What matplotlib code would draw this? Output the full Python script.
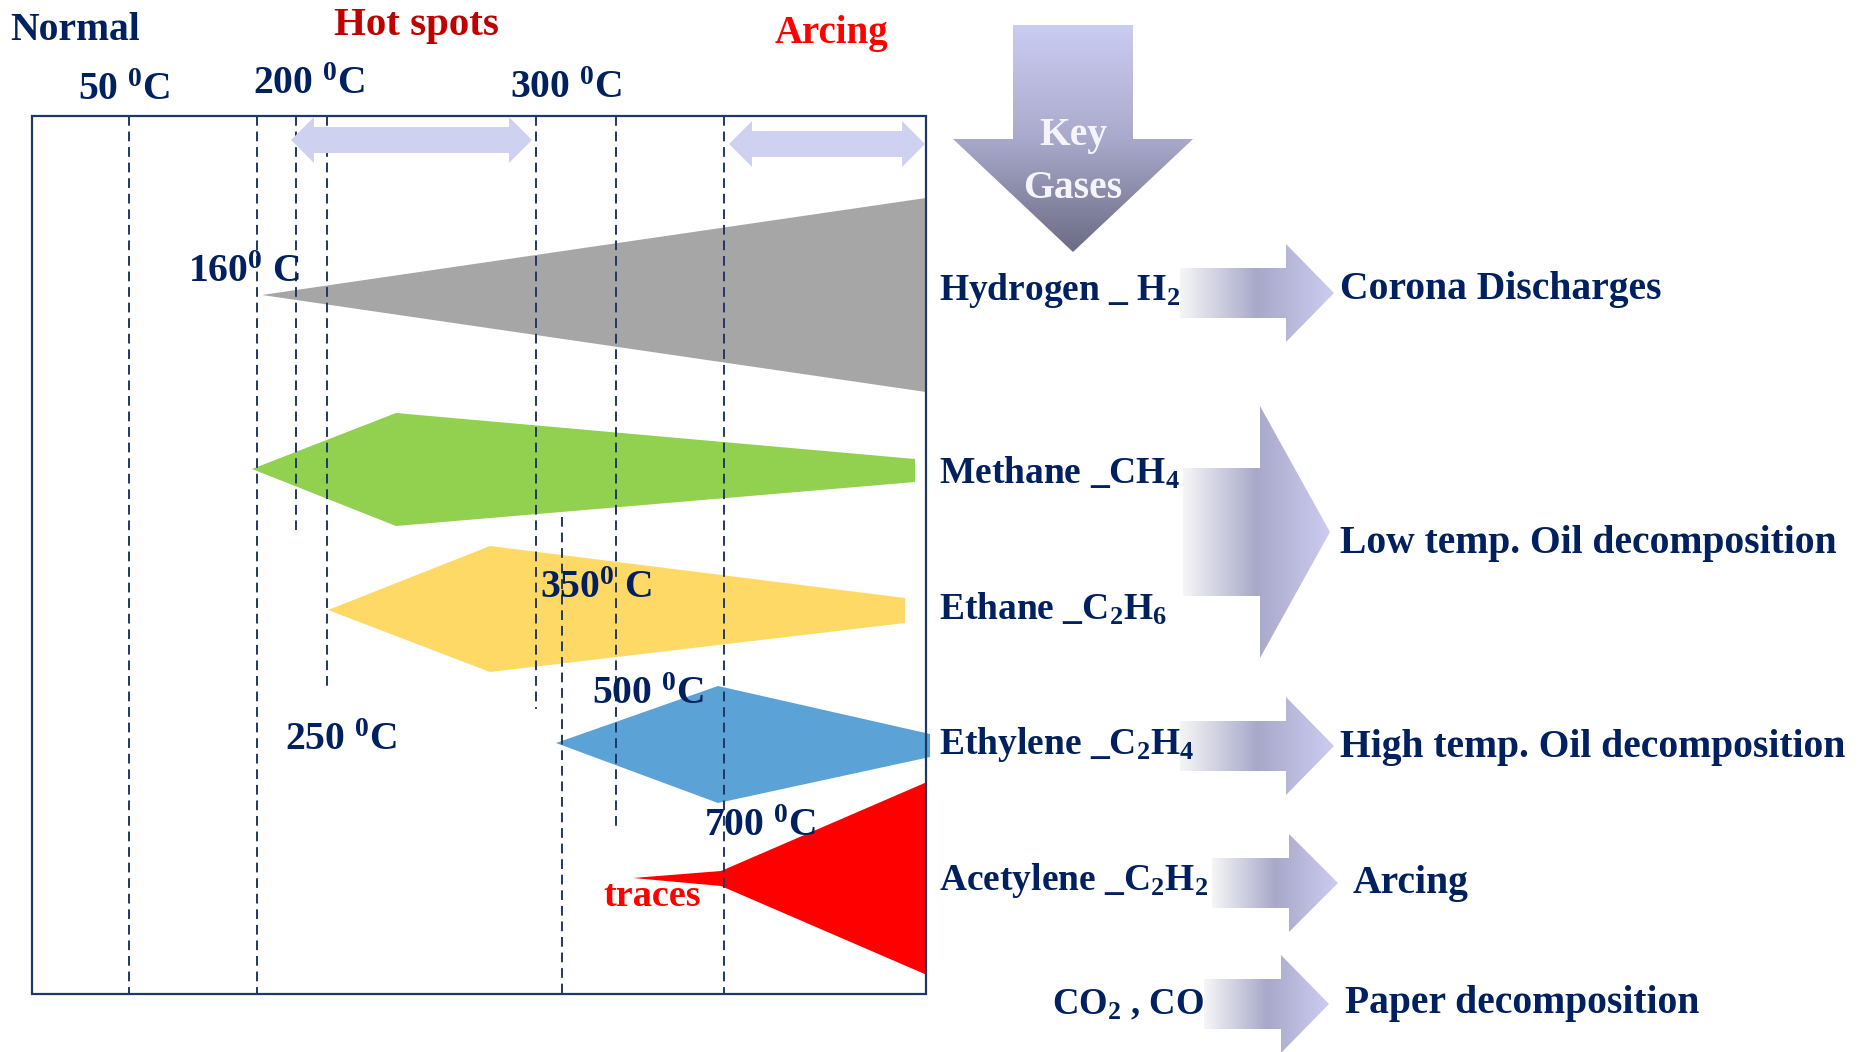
import numpy as np
import matplotlib
matplotlib.use("Agg")
import matplotlib.pyplot as plt
from matplotlib.patches import Polygon, Rectangle, PathPatch
from matplotlib.path import Path
from matplotlib.colors import LinearSegmentedColormap

plt.rcParams['font.family'] = ['Liberation Serif', 'DejaVu Serif']
plt.rcParams['mathtext.fontset'] = 'custom'
plt.rcParams['mathtext.rm'] = 'Liberation Serif:bold'
plt.rcParams['mathtext.it'] = 'Liberation Serif:bold'
plt.rcParams['mathtext.bf'] = 'Liberation Serif:bold'
plt.rcParams['mathtext.default'] = 'rm'

# ---- data (pixel space of the schematic, y grows downward) ----
# dashed temperature guide lines
line_x = [129, 257, 296, 327, 536, 562, 616, 724]
line_top = [116, 116, 116, 116, 116, 517, 116, 116]
line_bottom = [994, 994, 530, 690, 709, 994, 826, 994]

# temperature labels
temp_text = ['50 $^{0}$C', '200 $^{0}$C', '300 $^{0}$C', '160$^{0}$ C',
             '250 $^{0}$C', '350$^{0}$ C', '500 $^{0}$C', '700 $^{0}$C']
temp_x = [124, 309, 566, 244, 341, 596, 648, 760]
temp_y = [90, 85, 88, 272, 740, 589, 694, 826]

# zones on top
zone_text = ['Normal', 'Hot spots', 'Arcing']
zone_x = [10, 416, 831]
zone_y = [31, 25, 34]
zone_color = ['#002060', '#c00000', '#ff0000']
zone_size = [28.5, 29.5, 28]

# double arrows for hot spots / arcing: left tip, right tip, centre y
zone_arrow_left = [291, 729]
zone_arrow_right = [532, 925]
zone_arrow_y = [140, 144]

# key gases (shape outlines)
gas_names = ['Hydrogen _ H$_2$', 'Methane _CH$_4$', 'Ethane _C$_2$H$_6$',
             'Ethylene _C$_2$H$_4$', 'Acetylene _C$_2$H$_2$']
gas_label_y = [291, 473, 609, 745, 881]
gas_shape_x = [[262, 926, 926],
               [252, 396, 915, 915, 396],
               [328, 490, 905, 905, 490],
               [556, 718, 930, 930, 718],
               [633, 721, 927, 927, 721]]
gas_shape_y = [[295, 198, 392],
               [469, 413, 459, 482, 526],
               [610, 546, 598, 623, 672],
               [743, 686, 734, 757, 803],
               [878, 871, 782, 975, 886]]
gas_colors = ['#a6a6a6', '#92d050', '#ffd966', '#5ba3d6', '#ff0000']

# diagnosis arrows: body start, head start, tip, centre y, body half, head half
diag_text = ['Corona Discharges', 'Low temp. Oil decomposition',
             'High temp. Oil decomposition', 'Arcing', 'Paper decomposition']
diag_text_x = [1340, 1340, 1340, 1353, 1345]
diag_text_y = [290, 543, 747, 884, 1004]
arr_x0 = [1180, 1183, 1180, 1212, 1204]
arr_xh = [1286, 1260, 1286, 1289, 1281]
arr_tip = [1334, 1330, 1334, 1338, 1329]
arr_cy = [293, 532, 746, 883, 1004]
arr_body = [25, 64, 25, 25, 25]
arr_head = [49, 126, 49, 49, 49]

NAVY = '#002060'
W, H = 1862, 1052


def gradient_fill(ax, xs, ys, colors, vertical=False):
    verts = list(zip(xs, ys))
    path = Path(verts + [verts[0]], closed=True)
    patch = PathPatch(path, facecolor='none', edgecolor='none')
    ax.add_patch(patch)
    cmap = LinearSegmentedColormap.from_list('g', colors)
    g = np.linspace(0, 1, 256)
    img = g[:, None] if vertical else g[None, :]
    im = ax.imshow(img, cmap=cmap, aspect='auto', origin='upper',
                   extent=(min(xs), max(xs), max(ys), min(ys)),
                   interpolation='bicubic', zorder=2)
    im.set_clip_path(patch)


fig = plt.figure(figsize=(W / 100, H / 100), dpi=100)
ax = fig.add_axes([0, 0, 1, 1])
ax.axis('off')

# frame
ax.add_patch(Rectangle((32, 116), 894, 878, fill=False, ec='#1f3864', lw=1.6, zorder=5))

# dashed guide lines
for x, t, b in zip(line_x, line_top, line_bottom):
    ax.plot([x, x], [t, b], color='#1f3864', lw=1.4, ls=(0, (5, 3)), zorder=4)

# gas shapes
for xs, ys, c in zip(gas_shape_x, gas_shape_y, gas_colors):
    ax.add_patch(Polygon(list(zip(xs, ys)), closed=True, fc=c, ec='none', zorder=3))

# double arrows
for l, r, cy in zip(zone_arrow_left, zone_arrow_right, zone_arrow_y):
    hl, bh, hh = 23, 13, 23
    pts = [(l, cy), (l + hl, cy - hh), (l + hl, cy - bh), (r - hl, cy - bh),
           (r - hl, cy - hh), (r, cy), (r - hl, cy + hh), (r - hl, cy + bh),
           (l + hl, cy + bh), (l + hl, cy + hh)]
    ax.add_patch(Polygon(pts, closed=True, fc='#cfd1f0', ec='none', zorder=6))

# key gases arrow (pointing down)
kx = [1013, 1133, 1133, 1193, 1073, 953, 1013]
ky = [25, 25, 139, 139, 252, 139, 139]
gradient_fill(ax, kx, ky, ['#cbccf2', '#a9aacb', '#6b6b85'], vertical=True)
ax.text(1073, 135, 'Key', color='#f4f4fa', fontsize=28.5, fontweight='bold',
        ha='center', va='center', zorder=7)
ax.text(1073, 188, 'Gases', color='#f4f4fa', fontsize=28.5, fontweight='bold',
        ha='center', va='center', zorder=7)

# diagnosis arrows
for x0, xh, tip, cy, bh, hh in zip(arr_x0, arr_xh, arr_tip, arr_cy, arr_body, arr_head):
    xs = [x0, xh, xh, tip, xh, xh, x0]
    ys = [cy - bh, cy - bh, cy - hh, cy, cy + hh, cy + bh, cy + bh]
    gradient_fill(ax, xs, ys, ['#f6f6f8', '#a8a9c9', '#cbccf0'])

# texts
for s, x, y, c, fs in zip(zone_text, zone_x, zone_y, zone_color, zone_size):
    ax.text(x, y, s, color=c, fontsize=fs, fontweight='bold',
            ha='left' if s == 'Normal' else 'center', va='center', zorder=8)

for s, x, y in zip(temp_text, temp_x, temp_y):
    ax.text(x, y, s, color=NAVY, fontsize=28.5, fontweight='bold',
            ha='center', va='center', zorder=8)

ax.text(652, 896, 'traces', color='#ff0000', fontsize=27.5, fontweight='bold',
        ha='center', va='center', zorder=8)

for s, y in zip(gas_names, gas_label_y):
    ax.text(939, y, s, color=NAVY, fontsize=27, fontweight='bold',
            ha='left', va='center', zorder=8)
ax.text(1052, 1005, 'CO$_2$ , CO', color=NAVY, fontsize=26.5, fontweight='bold',
        ha='left', va='center', zorder=8)

for s, x, y in zip(diag_text, diag_text_x, diag_text_y):
    ax.text(x, y, s, color=NAVY, fontsize=28.5, fontweight='bold',
            ha='left', va='center', zorder=8)

ax.set_xlim(0, W)
ax.set_ylim(H, 0)

fig.savefig('out.png', dpi=100, facecolor='white')
